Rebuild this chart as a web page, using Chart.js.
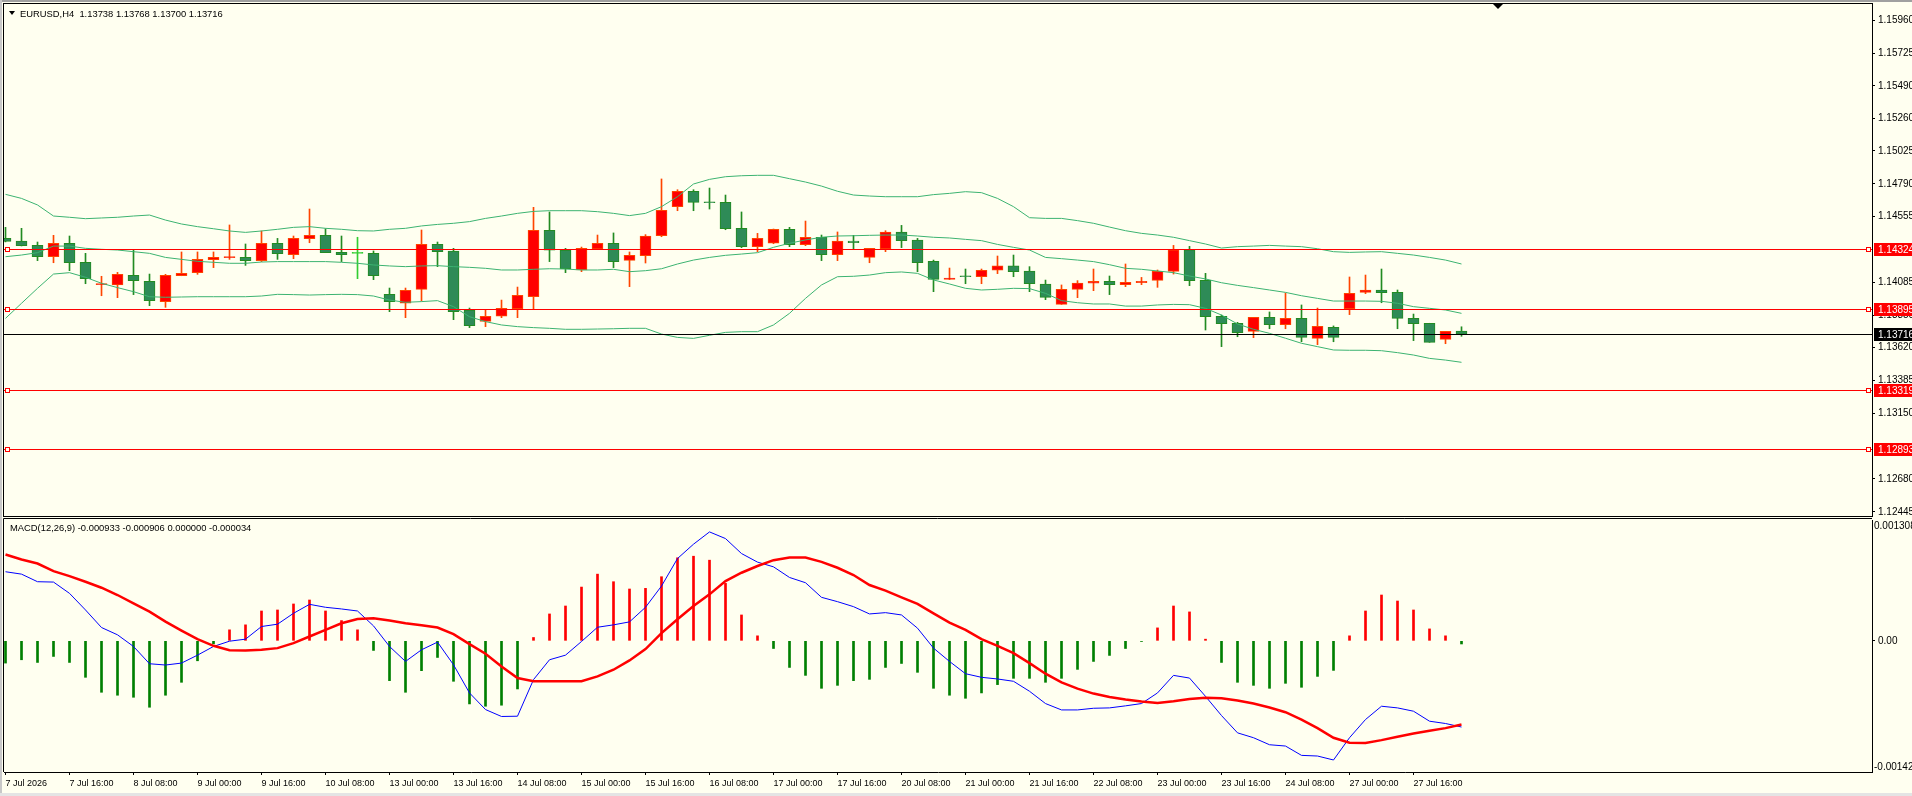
<!DOCTYPE html>
<html>
<head>
<meta charset="utf-8">
<script src="https://cdn.jsdelivr.net/npm/chart.js@4.4.1/dist/chart.umd.min.js"></script>
<style>
  html, body { margin: 0; padding: 0; width: 1912px; height: 796px; overflow: hidden; background: #fffff0; }
  body { position: relative; font-family: "Liberation Sans", Arial, sans-serif; }
  canvas { position: absolute; left: 0; }
  #main { top: 0; }
  #macd { top: 518px; }
  .caption { position: absolute; font-size: 9.4px; line-height: 11px; color: #000; white-space: pre; }
  .edge { position: absolute; background: #a0a0a0; }
  .arrow { position: absolute; left: 9px; top: 11px; width: 0; height: 0;
           border-left: 3.5px solid transparent; border-right: 3.5px solid transparent; border-top: 4px solid #000; }
</style>
</head>
<body>
<canvas id="main" width="1912" height="518"></canvas>
<canvas id="macd" width="1912" height="278"></canvas>
<div class="edge" style="left:0;top:0;width:1912px;height:2px"></div>
<div class="edge" style="left:0;top:0;width:2px;height:796px;background:#c8c8c8"></div>
<div class="edge" style="left:0;top:793px;width:1912px;height:3px;background:#e4e4e4"></div>
<div class="arrow"></div>
<div class="caption" style="left:20px;top:8px">EURUSD,H4  1.13738 1.13768 1.13700 1.13716</div>
<div class="caption" style="left:10px;top:522px">MACD(12,26,9) -0.000933 -0.000906 0.000000 -0.000034</div>
<script>
// EURUSD H4, 7 Jul 2026 00:00 .. 28 Jul 04:00 (92 bars)
const timeLabels = ['7 Jul 2026', '7 Jul 16:00', '8 Jul 08:00', '9 Jul 00:00', '9 Jul 16:00', '10 Jul 08:00',
    '13 Jul 00:00', '13 Jul 16:00', '14 Jul 08:00', '15 Jul 00:00', '15 Jul 16:00', '16 Jul 08:00',
    '17 Jul 00:00', '17 Jul 16:00', '20 Jul 08:00', '21 Jul 00:00', '21 Jul 16:00', '22 Jul 08:00',
    '23 Jul 00:00', '23 Jul 16:00', '24 Jul 08:00', '27 Jul 00:00', '27 Jul 16:00'];
const timeLabelBars = [0, 4, 8, 12, 16, 20, 24, 28, 32, 36, 40, 44, 48, 52, 56, 60, 64, 68, 72, 76, 80, 84, 88];

const opens = [
    1.14400, 1.14381, 1.14350, 1.14269, 1.14365, 1.14229, 1.14069, 1.14067, 1.14136, 1.14093,
    1.13948, 1.14133, 1.14155, 1.14248, 1.14262, 1.14265, 1.14241, 1.14365, 1.14284, 1.14398,
    1.14422, 1.14300, 1.14293, 1.14293, 1.14000, 1.13936, 1.14036, 1.14357, 1.14310, 1.13888,
    1.13807, 1.13843, 1.13897, 1.13983, 1.14458, 1.14317, 1.14174, 1.14324, 1.14365, 1.14243,
    1.14276, 1.14419, 1.14627, 1.14736, 1.14658, 1.14658, 1.14472, 1.14341, 1.14365, 1.14465,
    1.14355, 1.14407, 1.14284, 1.14381, 1.14264, 1.14324, 1.14446, 1.14388, 1.14236, 1.14107,
    1.14129, 1.14126, 1.14172, 1.14203, 1.14167, 1.14074, 1.13928, 1.14036, 1.14079, 1.14093,
    1.14069, 1.14083, 1.14100, 1.14164, 1.14319, 1.14100, 1.13843, 1.13793, 1.13735, 1.13835,
    1.13783, 1.13828, 1.13685, 1.13764, 1.13897, 1.14014, 1.14031, 1.14014, 1.13828, 1.13793,
    1.13678, 1.13738];
const highs = [
    1.14479, 1.14472, 1.14374, 1.14422, 1.14417, 1.14293, 1.14129, 1.14157, 1.14315, 1.14145,
    1.14143, 1.14303, 1.14303, 1.14303, 1.14496, 1.14360, 1.14453, 1.14400, 1.14417, 1.14610,
    1.14469, 1.14417, 1.14408, 1.14310, 1.14045, 1.14045, 1.14460, 1.14374, 1.14329, 1.13902,
    1.13888, 1.13959, 1.14052, 1.14622, 1.14589, 1.14329, 1.14338, 1.14424, 1.14439, 1.14303,
    1.14427, 1.14825, 1.14748, 1.14748, 1.14760, 1.14710, 1.14589, 1.14436, 1.14467, 1.14479,
    1.14524, 1.14424, 1.14446, 1.14422, 1.14329, 1.14455, 1.14493, 1.14400, 1.14245, 1.14188,
    1.14181, 1.14181, 1.14274, 1.14281, 1.14198, 1.14102, 1.14067, 1.14098, 1.14181, 1.14131,
    1.14217, 1.14121, 1.14174, 1.14350, 1.14343, 1.14150, 1.13852, 1.13800, 1.13835, 1.13874,
    1.14009, 1.13924, 1.13902, 1.13774, 1.14124, 1.14138, 1.14181, 1.14031, 1.13859, 1.13793,
    1.13735, 1.13768];
const lows = [
    1.14375, 1.14346, 1.14241, 1.14226, 1.14169, 1.14076, 1.13990, 1.13976, 1.13998, 1.13919,
    1.13907, 1.14133, 1.14143, 1.14191, 1.14250, 1.14207, 1.14234, 1.14250, 1.14255, 1.14369,
    1.14298, 1.14234, 1.14112, 1.14105, 1.13876, 1.13833, 1.13952, 1.14198, 1.13819, 1.13762,
    1.13769, 1.13833, 1.13833, 1.13893, 1.14234, 1.14155, 1.14162, 1.14324, 1.14191, 1.14055,
    1.14224, 1.14412, 1.14598, 1.14598, 1.14610, 1.14462, 1.14334, 1.14305, 1.14362, 1.14341,
    1.14348, 1.14241, 1.14241, 1.14324, 1.14226, 1.14305, 1.14334, 1.14162, 1.14019, 1.14105,
    1.14076, 1.14076, 1.14148, 1.14126, 1.14019, 1.13962, 1.13928, 1.13976, 1.14026, 1.13998,
    1.14055, 1.14069, 1.14050, 1.14145, 1.14062, 1.13745, 1.13626, 1.13697, 1.13690, 1.13754,
    1.13754, 1.13661, 1.13640, 1.13661, 1.13855, 1.14005, 1.13940, 1.13754, 1.13669, 1.13657,
    1.13647, 1.13700];
const closes = [
    1.14379, 1.14348, 1.14269, 1.14365, 1.14226, 1.14112, 1.14074, 1.14143, 1.14098, 1.13955,
    1.14136, 1.14150, 1.14250, 1.14265, 1.14265, 1.14241, 1.14365, 1.14291, 1.14400, 1.14422,
    1.14298, 1.14284, 1.14293, 1.14133, 1.13948, 1.14029, 1.14357, 1.14305, 1.13876, 1.13776,
    1.13843, 1.13900, 1.13993, 1.14458, 1.14315, 1.14183, 1.14329, 1.14365, 1.14234, 1.14279,
    1.14417, 1.14601, 1.14736, 1.14658, 1.14655, 1.14469, 1.14341, 1.14400, 1.14465, 1.14355,
    1.14407, 1.14284, 1.14381, 1.14369, 1.14329, 1.14446, 1.14384, 1.14226, 1.14107, 1.14117,
    1.14126, 1.14172, 1.14203, 1.14162, 1.14076, 1.13978, 1.14036, 1.14081, 1.14093, 1.14069,
    1.14086, 1.14093, 1.14164, 1.14319, 1.14098, 1.13840, 1.13790, 1.13726, 1.13835, 1.13783,
    1.13828, 1.13692, 1.13771, 1.13692, 1.14007, 1.14031, 1.14012, 1.13828, 1.13790, 1.13657,
    1.13735, 1.13716];

// Bollinger Bands (20, 2) as drawn on the chart
const bbUpper = [
    1.14715, 1.14686, 1.14639, 1.14560, 1.14551, 1.14541, 1.14546, 1.14551, 1.14560, 1.14567,
    1.14531, 1.14503, 1.14484, 1.14469, 1.14453, 1.14443, 1.14453, 1.14465, 1.14479, 1.14484,
    1.14472, 1.14465, 1.14455, 1.14453, 1.14465, 1.14472, 1.14489, 1.14500, 1.14508, 1.14520,
    1.14543, 1.14560, 1.14579, 1.14593, 1.14598, 1.14598, 1.14598, 1.14591, 1.14579, 1.14563,
    1.14579, 1.14627, 1.14698, 1.14789, 1.14822, 1.14841, 1.14848, 1.14851, 1.14851, 1.14827,
    1.14803, 1.14774, 1.14737, 1.14710, 1.14703, 1.14698, 1.14698, 1.14698, 1.14713, 1.14722,
    1.14734, 1.14727, 1.14686, 1.14627, 1.14548, 1.14543, 1.14543, 1.14527, 1.14508, 1.14481,
    1.14455, 1.14436, 1.14424, 1.14408, 1.14384, 1.14360, 1.14331, 1.14341, 1.14345, 1.14350,
    1.14345, 1.14341, 1.14326, 1.14305, 1.14300, 1.14303, 1.14305, 1.14293, 1.14281, 1.14264,
    1.14245, 1.14217];
const bbMiddle = [
    1.14269, 1.14281, 1.14298, 1.14345, 1.14345, 1.14329, 1.14322, 1.14317, 1.14305, 1.14293,
    1.14264, 1.14250, 1.14236, 1.14229, 1.14222, 1.14222, 1.14231, 1.14234, 1.14234, 1.14234,
    1.14234, 1.14229, 1.14222, 1.14210, 1.14203, 1.14198, 1.14203, 1.14205, 1.14198, 1.14193,
    1.14186, 1.14174, 1.14174, 1.14179, 1.14183, 1.14181, 1.14174, 1.14174, 1.14179, 1.14162,
    1.14169, 1.14183, 1.14217, 1.14245, 1.14264, 1.14279, 1.14288, 1.14298, 1.14336, 1.14365,
    1.14389, 1.14408, 1.14417, 1.14419, 1.14422, 1.14424, 1.14424, 1.14417, 1.14408, 1.14403,
    1.14393, 1.14384, 1.14357, 1.14336, 1.14317, 1.14264, 1.14255, 1.14245, 1.14234, 1.14212,
    1.14186, 1.14179, 1.14167, 1.14155, 1.14131, 1.14110, 1.14083, 1.14064, 1.14048, 1.14031,
    1.14014, 1.13990, 1.13971, 1.13952, 1.13952, 1.13952, 1.13950, 1.13936, 1.13912, 1.13900,
    1.13888, 1.13864];
const bbLower = [
    1.13828, 1.13936, 1.14043, 1.14145, 1.14155, 1.14122, 1.14079, 1.14048, 1.14019, 1.13983,
    1.13979, 1.13981, 1.13983, 1.13983, 1.13983, 1.13983, 1.13988, 1.14000, 1.13998, 1.13995,
    1.13998, 1.14000, 1.13998, 1.13988, 1.13959, 1.13943, 1.13948, 1.13955, 1.13912, 1.13840,
    1.13805, 1.13781, 1.13769, 1.13762, 1.13757, 1.13750, 1.13750, 1.13752, 1.13754, 1.13757,
    1.13757, 1.13716, 1.13692, 1.13685, 1.13707, 1.13728, 1.13733, 1.13733, 1.13781, 1.13864,
    1.13971, 1.14067, 1.14126, 1.14129, 1.14138, 1.14155, 1.14160, 1.14150, 1.14103, 1.14074,
    1.14043, 1.14031, 1.14036, 1.14043, 1.14041, 1.14007, 1.13955, 1.13940, 1.13931, 1.13931,
    1.13916, 1.13916, 1.13924, 1.13928, 1.13926, 1.13900, 1.13852, 1.13788, 1.13750, 1.13721,
    1.13686, 1.13650, 1.13626, 1.13602, 1.13600, 1.13600, 1.13597, 1.13583, 1.13566, 1.13542,
    1.13530, 1.13514];

// MACD (12,26,9): histogram, main line, signal line
const macdHist = [
    -0.000241, -0.000205, -0.000234, -0.000169, -0.000234, -0.000395, -0.000557, -0.000589, -0.000611, -0.000719,
    -0.000589, -0.000449, -0.000216, -0.000032, 0.000119, 0.000173, 0.000323, 0.000334, 0.000399, 0.000442,
    0.000323, 0.000219, 0.000119, -0.000104, -0.000431, -0.000557, -0.000323, -0.000180, -0.000438, -0.000683,
    -0.000708, -0.000697, -0.000521, 0.000036, 0.000291, 0.000377, 0.000582, 0.000722, 0.000640, 0.000561,
    0.000568, 0.000694, 0.000899, 0.000916, 0.000873, 0.000622, 0.000280, 0.000054, -0.000083, -0.000288,
    -0.000374, -0.000514, -0.000482, -0.000431, -0.000417, -0.000288, -0.000245, -0.000341, -0.000514, -0.000589,
    -0.000622, -0.000564, -0.000474, -0.000406, -0.000406, -0.000449, -0.000406, -0.000309, -0.000223, -0.000158,
    -0.000083, -0.000007, 0.000140, 0.000377, 0.000313, 0.000018, -0.000234, -0.000449, -0.000482, -0.000514,
    -0.000460, -0.000503, -0.000385, -0.000320, 0.000054, 0.000323, 0.000496, 0.000431, 0.000334, 0.000129,
    0.000054, -0.000034];
const macdLine = [
    0.000748, 0.000722, 0.000640, 0.000636, 0.000514, 0.000334, 0.000144, 0.000065, -0.000061, -0.000248,
    -0.000262, -0.000241, -0.000155, -0.000061, -0.000004, 0.000018, 0.000155, 0.000180, 0.000298, 0.000395,
    0.000363, 0.000345, 0.000323, 0.000162, -0.000061, -0.000223, -0.000097, -0.000014, -0.000259, -0.000564,
    -0.000744, -0.000819, -0.000816, -0.000420, -0.000205, -0.000155, -0.000007, 0.000147, 0.000173, 0.000205,
    0.000363, 0.000593, 0.000891, 0.001046, 0.001179, 0.001107, 0.000945, 0.000852, 0.000801, 0.000686,
    0.000629, 0.000471, 0.000424, 0.000370, 0.000291, 0.000305, 0.000280, 0.000137, -0.000079, -0.000223,
    -0.000356, -0.000395, -0.000413, -0.000438, -0.000546, -0.000679, -0.000748, -0.000748, -0.000730, -0.000726,
    -0.000704, -0.000679, -0.000564, -0.000374, -0.000403, -0.000601, -0.000809, -0.000996, -0.001049, -0.001125,
    -0.001139, -0.001240, -0.001247, -0.001290, -0.001049, -0.000852, -0.000708, -0.000726, -0.000762, -0.000870,
    -0.000895, -0.000933];
const macdSignal = [
    0.000934, 0.000881, 0.000837, 0.000755, 0.000701, 0.000640, 0.000575, 0.000496, 0.000406, 0.000316,
    0.000208, 0.000111, 0.000018, -0.000054, -0.000101, -0.000104, -0.000097, -0.000079, -0.000025, 0.000047,
    0.000119, 0.000190, 0.000237, 0.000244, 0.000219, 0.000190, 0.000169, 0.000144, 0.000072, -0.000036,
    -0.000140, -0.000277, -0.000403, -0.000438, -0.000438, -0.000438, -0.000438, -0.000385, -0.000313, -0.000212,
    -0.000090, 0.000083, 0.000234, 0.000377, 0.000503, 0.000647, 0.000737, 0.000810, 0.000873, 0.000902,
    0.000902, 0.000855, 0.000791, 0.000712, 0.000604, 0.000543, 0.000471, 0.000399, 0.000298, 0.000198,
    0.000119, 0.000018, -0.000054, -0.000133, -0.000241, -0.000356, -0.000449, -0.000518, -0.000571, -0.000607,
    -0.000636, -0.000658, -0.000672, -0.000654, -0.000629, -0.000615, -0.000622, -0.000647, -0.000679, -0.000722,
    -0.000773, -0.000852, -0.000945, -0.001049, -0.001103, -0.001107, -0.001075, -0.001039, -0.001003, -0.000974,
    -0.000945, -0.000906];

// price axis labels, horizontal levels, current bid
const priceTicks = [1.15960, 1.15725, 1.15490, 1.15260, 1.15025, 1.14790, 1.14555,
    1.14085, 1.13850, 1.13620, 1.13385, 1.13150, 1.12680, 1.12445];
const levelPrices = [1.14324, 1.13895, 1.13319, 1.12893];
const bidPrice = 1.13716;
const priceMin = 1.12415, priceMax = 1.16076;
const macdMin = -0.00142, macdMax = 0.001308;

// view: 16px per bar, empty shift space on the right
const xMin = -0.094, xMax = 116.656;

const FONT = '"Liberation Sans", Arial, sans-serif';
Chart.defaults.font.family = FONT;
Chart.defaults.animation = false;

const BULL_FILL = '#ff0000', BULL_EDGE = '#ff4500';
const BEAR_FILL = '#2e8b57', BEAR_EDGE = '#228b22';
const DOJI = '#32cd32';
const BAND = '#3cb371';

const candleFill = opens.map((o, i) => closes[i] > o ? BULL_FILL : closes[i] < o ? BEAR_FILL : DOJI);
const candleEdge = opens.map((o, i) => closes[i] > o ? BULL_EDGE : closes[i] < o ? BEAR_EDGE : DOJI);

const xy = arr => arr.map((v, i) => ({ x: i, y: v }));

function fixWidth(w) {
    return scale => { scale.width = w; scale.paddingTop = 0; scale.paddingBottom = 0; };
}

function priceTag(ctx, x, yc, text, bg) {
    ctx.fillStyle = bg;
    ctx.fillRect(x, Math.round(yc) - 6, 40, 13);
    ctx.fillStyle = '#ffffff';
    ctx.font = '10px ' + FONT;
    ctx.textAlign = 'left';
    ctx.textBaseline = 'middle';
    ctx.fillText(text, x + 4, Math.round(yc) + 1);
}

const mainDecor = {
    id: 'mainDecor',
    afterDatasetsDraw(chart) {
        const { ctx, chartArea: a, scales: { y } } = chart;
        ctx.save();
        ctx.lineWidth = 1;
        levelPrices.forEach(p => {
            const py = Math.round(y.getPixelForValue(p)) + 0.5;
            ctx.strokeStyle = '#ff0000';
            ctx.beginPath(); ctx.moveTo(a.left, py); ctx.lineTo(a.right, py); ctx.stroke();
            ctx.fillStyle = '#fffff0';
            [a.left + 1.5, a.right - 5.5].forEach(sx => {
                ctx.fillRect(sx, py - 2, 4, 4);
                ctx.strokeRect(sx, py - 2, 4, 4);
            });
        });
        const by = Math.round(y.getPixelForValue(bidPrice)) + 0.5;
        ctx.strokeStyle = '#000000';
        ctx.beginPath(); ctx.moveTo(a.left, by); ctx.lineTo(a.right, by); ctx.stroke();
        ctx.restore();
    },
    afterDraw(chart) {
        const { ctx, chartArea: a, scales: { y } } = chart;
        ctx.save();
        ctx.strokeStyle = '#000000';
        ctx.lineWidth = 1;
        ctx.strokeRect(a.left - 0.5, a.top - 0.5, a.right - a.left + 1, a.bottom - a.top + 1);
        levelPrices.forEach(p => priceTag(ctx, a.right + 2, y.getPixelForValue(p), p.toFixed(5), '#ff0000'));
        priceTag(ctx, a.right + 2, y.getPixelForValue(bidPrice), bidPrice.toFixed(5), '#000000');
        // chart shift marker
        ctx.fillStyle = '#000000';
        ctx.beginPath();
        ctx.moveTo(1493, a.top); ctx.lineTo(1503, a.top); ctx.lineTo(1498, a.top + 5);
        ctx.closePath(); ctx.fill();
        ctx.restore();
    }
};

const macdDecor = {
    id: 'macdDecor',
    afterDraw(chart) {
        const { ctx, chartArea: a, scales: { y } } = chart;
        ctx.save();
        ctx.strokeStyle = '#000000';
        ctx.lineWidth = 1;
        ctx.beginPath();
        ctx.moveTo(a.left - 0.5, a.bottom); ctx.lineTo(a.left - 0.5, a.top - 1.5); ctx.lineTo(a.right, a.top - 1.5);
        ctx.stroke();
        ctx.fillStyle = '#000000';
        ctx.font = '10px ' + FONT;
        ctx.textAlign = 'left';
        ctx.textBaseline = 'middle';
        ctx.fillText(String(y.max), a.right + 2, a.top + 6);
        ctx.fillText(String(y.min), a.right + 2, a.bottom - 5);
        ctx.restore();
    }
};

new Chart(document.getElementById('main'), {
    type: 'bar',
    data: {
        datasets: [
            { type: 'line', data: xy(bbUpper), borderColor: BAND, borderWidth: 1, pointRadius: 0, order: 0 },
            { type: 'line', data: xy(bbMiddle), borderColor: BAND, borderWidth: 1, pointRadius: 0, order: 0 },
            { type: 'line', data: xy(bbLower), borderColor: BAND, borderWidth: 1, pointRadius: 0, order: 0 },
            {
                data: opens.map((o, i) => ({ x: i, y: [o, closes[i]] })),
                backgroundColor: candleFill, borderColor: candleEdge, borderWidth: 1, borderSkipped: false,
                barThickness: 11, minBarLength: 1, grouped: false, order: 1
            },
            {
                data: lows.map((l, i) => ({ x: i, y: [l, highs[i]] })),
                backgroundColor: candleEdge, borderWidth: 0, barThickness: 1, grouped: false, order: 2
            }
        ]
    },
    options: {
        responsive: false,
        animation: false,
        layout: { padding: { left: 4, top: 4, right: 0, bottom: 2 } },
        plugins: { legend: { display: false }, tooltip: { enabled: false } },
        scales: {
            x: { type: 'linear', min: xMin, max: xMax, offset: false, display: false, grid: { offset: false } },
            y: {
                position: 'right', min: priceMin, max: priceMax,
                afterBuildTicks: s => { s.ticks = priceTicks.map(v => ({ value: v })); },
                afterFit: fixWidth(40),
                ticks: { autoSkip: false, padding: 3, color: '#000', font: { size: 10 }, callback: v => v.toFixed(5) },
                grid: { drawOnChartArea: false, tickLength: 3, color: '#000' },
                border: { color: '#000' }
            }
        }
    },
    plugins: [mainDecor]
});

new Chart(document.getElementById('macd'), {
    type: 'bar',
    data: {
        datasets: [
            { type: 'line', data: xy(macdSignal), borderColor: '#ff0000', borderWidth: 2.5, pointRadius: 0, order: 0 },
            { type: 'line', data: xy(macdLine), borderColor: '#0000ff', borderWidth: 1, pointRadius: 0, order: 1 },
            {
                data: xy(macdHist), backgroundColor: macdHist.map(v => v >= 0 ? '#ff0000' : '#008000'),
                borderWidth: 0, barThickness: 2, grouped: false, order: 2
            }
        ]
    },
    options: {
        responsive: false,
        animation: false,
        layout: { padding: { left: 4, top: 2, right: 0, bottom: 0 } },
        plugins: { legend: { display: false }, tooltip: { enabled: false } },
        scales: {
            x: {
                type: 'linear', min: xMin, max: xMax, offset: false,
                afterBuildTicks: s => { s.ticks = timeLabelBars.map(v => ({ value: v })); },
                afterFit: s => { s.height = 24; s.paddingLeft = 0; s.paddingRight = 0; },
                ticks: {
                    autoSkip: false, maxRotation: 0, align: 'start', padding: 3, color: '#000',
                    font: { size: 9 }, callback: (v, i) => timeLabels[i]
                },
                grid: { drawOnChartArea: false, offset: false, tickLength: 3, color: '#000' },
                border: { color: '#000' }
            },
            y: {
                position: 'right', min: macdMin, max: macdMax,
                afterBuildTicks: s => { s.ticks = [{ value: 0 }]; },
                afterFit: fixWidth(40),
                ticks: { padding: 3, color: '#000', font: { size: 10 }, callback: v => v.toFixed(2) },
                grid: { drawOnChartArea: false, tickLength: 3, color: '#000' },
                border: { color: '#000' }
            }
        }
    },
    plugins: [macdDecor]
});
</script>
</body>
</html>
